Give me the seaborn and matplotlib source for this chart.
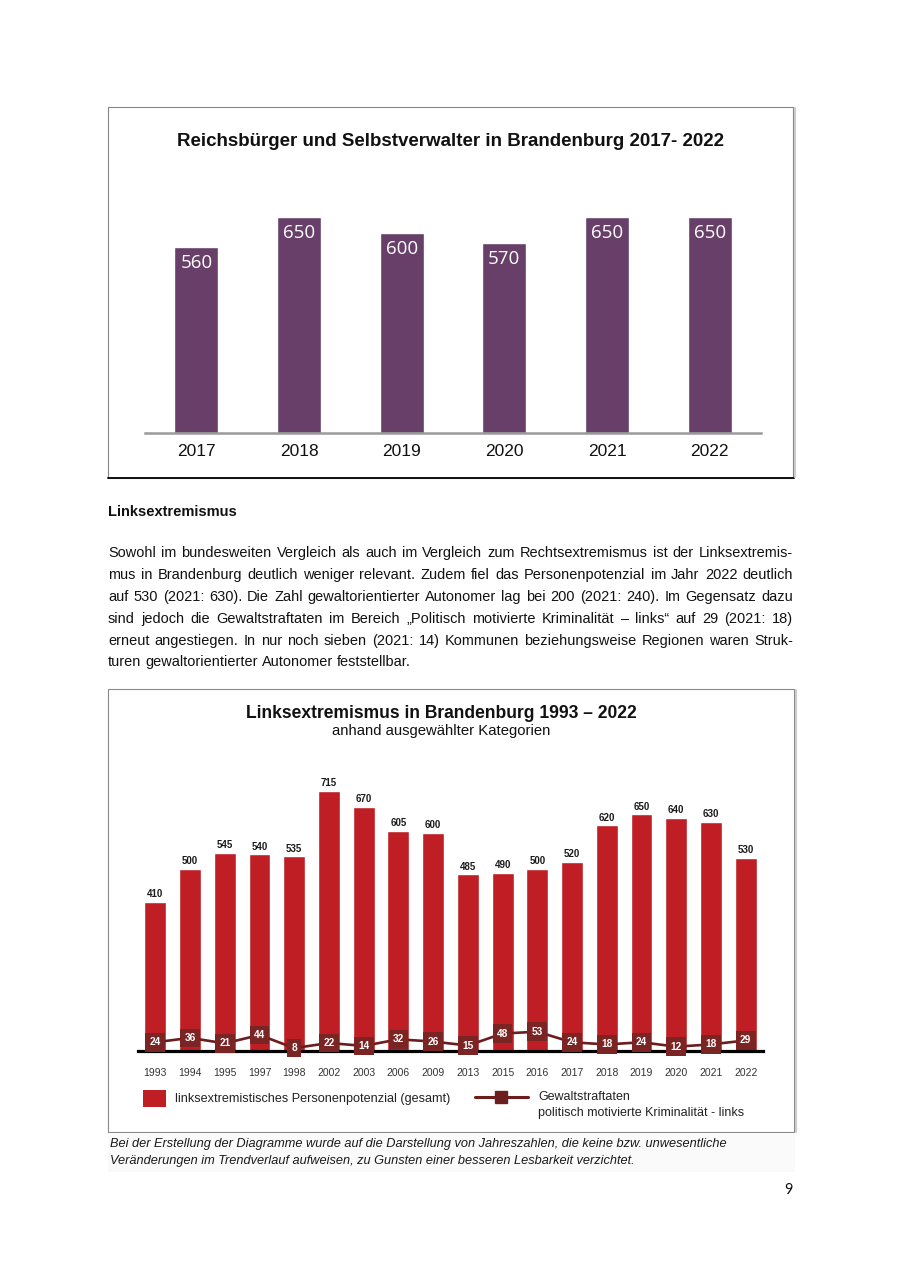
import numpy as np
import pandas as pd
import matplotlib
matplotlib.use('Agg')
import matplotlib.pyplot as plt
import seaborn as sns
from matplotlib import font_manager
from matplotlib.patches import Rectangle
from matplotlib.lines import Line2D

# ---------------- data ----------------
years1 = ['2017', '2018', '2019', '2020', '2021', '2022']
reichsbuerger = [560, 650, 600, 570, 650, 650]

years2 = ['1993', '1994', '1995', '1997', '1998', '2002', '2003', '2006', '2009',
          '2013', '2015', '2016', '2017', '2018', '2019', '2020', '2021', '2022']
personen = [410, 500, 545, 540, 535, 715, 670, 605, 600, 485, 490, 500, 520, 620, 650, 640, 630, 530]
gewalt = [24, 36, 21, 44, 8, 22, 14, 32, 26, 15, 48, 53, 24, 18, 24, 12, 18, 29]

title1 = 'Reichsbürger und Selbstverwalter in Brandenburg 2017- 2022'
heading = 'Linksextremismus'
body_lines = [
    'Sowohl im bundesweiten Vergleich als auch im Vergleich zum Rechtsextremismus ist der Linksextremis-',
    'mus in Brandenburg deutlich weniger relevant. Zudem fiel das Personenpotenzial im Jahr 2022 deutlich',
    'auf 530 (2021: 630). Die Zahl gewaltorientierter Autonomer lag bei 200 (2021: 240). Im Gegensatz dazu',
    'sind jedoch die Gewaltstraftaten im Bereich „Politisch motivierte Kriminalität – links“ auf 29 (2021: 18)',
    'erneut angestiegen. In nur noch sieben (2021: 14) Kommunen beziehungsweise Regionen waren Struk-',
    'turen gewaltorientierter Autonomer feststellbar.',
]
title2 = 'Linksextremismus in Brandenburg 1993 – 2022'
subtitle2 = 'anhand ausgewählter Kategorien'
legend_bar = 'linksextremistisches Personenpotenzial (gesamt)'
legend_line = ['Gewaltstraftaten', 'politisch motivierte Kriminalität - links']
caption = ['Bei der Erstellung der Diagramme wurde auf die Darstellung von Jahreszahlen, die keine bzw. unwesentliche',
           'Veränderungen im Trendverlauf aufweisen, zu Gunsten einer besseren Lesbarkeit verzichtet.']

# ---------------- style ----------------
W, H = 900, 1273
sns.set_theme(style='white')
names = {f.name for f in font_manager.fontManager.ttflist}
NARROW = 'Liberation Sans Narrow' if 'Liberation Sans Narrow' in names else 'Liberation Sans'
plt.rcParams['font.family'] = ['Liberation Sans', 'DejaVu Sans']

PURPLE = '#673F69'
RED = '#BE1E24'
MAROON = '#6C1D1D'
BOXC = '#7A2424'

fig = plt.figure(figsize=(W / 100, H / 100), dpi=100)
fig.patch.set_facecolor('white')
renderer = fig.canvas.get_renderer()


def fx(x):
    return x / W


def fy(y):
    return 1 - y / H


def ax_at(l, t, r, b):
    return fig.add_axes([fx(l), fy(b), (r - l) / W, (b - t) / H])


def fit_text(x, y, s, width, ha='center', size=12, **kw):
    t = fig.text(fx(x), fy(y), s, ha=ha, va='center', fontsize=size, **kw)
    w = t.get_window_extent(renderer).width
    t.set_fontsize(size * width / w)
    return t


def text_width(s, size, **kw):
    t = fig.text(0, 0, s, fontsize=size, **kw)
    w = t.get_window_extent(renderer).width
    t.remove()
    return w


def justify(line, y, x0, x1, size, last=False, **kw):
    words = line.split(' ')
    widths = [text_width(w, size, **kw) for w in words]
    space = text_width('a a', size, **kw) - text_width('aa', size, **kw)
    if last or len(words) == 1:
        gap = space
    else:
        gap = (x1 - x0 - sum(widths)) / (len(words) - 1)
    x = x0
    for w, wd in zip(words, widths):
        fig.text(fx(x), fy(y), w, ha='left', va='center', fontsize=size, **kw)
        x += wd + gap


# ---------------- chart 1 ----------------
fig.patches.append(Rectangle((fx(108), fy(478)), (793 - 108) / W, (478 - 107) / H,
                             transform=fig.transFigure, fill=False, ec='#858585', lw=0.8))
fig.lines.append(Line2D([fx(108), fx(794)], [fy(478), fy(478)], transform=fig.transFigure,
                        color='#111111', lw=1.4))
fig.lines.append(Line2D([fx(794.5), fx(794.5)], [fy(108), fy(477)], transform=fig.transFigure,
                        color='#cccccc', lw=1.5))

fit_text(451, 142, title1, 552, size=15, weight='bold', family=NARROW, color='#111111')

ax1 = ax_at(145, 200, 761, 433)
df1 = pd.DataFrame({'Jahr': years1, 'Wert': reichsbuerger})
sns.barplot(data=df1, x='Jahr', y='Wert', color=PURPLE, saturation=1, width=0.43, ax=ax1)
ax1.set_xlim(-0.5, len(years1) - 0.5)
ax1.set_ylim(0, 700)
ax1.set_facecolor('none')
for s in ['top', 'left', 'right']:
    ax1.spines[s].set_visible(False)
ax1.spines['bottom'].set_color('#9a9a9a')
ax1.spines['bottom'].set_linewidth(1.8)
ax1.set_yticks([])
ax1.set_xlabel('')
ax1.set_ylabel('')
ax1.tick_params(axis='x', length=0, pad=8, labelsize=12.5, labelcolor='#111111')
for i, v in enumerate(reichsbuerger):
    ax1.annotate(str(v), (i, v), xytext=(0, -11.5), textcoords='offset points',
                 ha='center', va='center', color='white', fontsize=13.5,
                 family=['Open Sans', 'DejaVu Sans'])

# ---------------- text section ----------------
fit_text(108, 512, heading, 129, ha='left', size=11, weight='bold', family=NARROW, color='#111111')

full = body_lines[:-1]
maxw = max(text_width(l, 10, family=NARROW) for l in full)
bsize = 10 * 674 / maxw
ys = [553, 575, 597, 619, 641, 662]
for k, (line, y) in enumerate(zip(body_lines, ys)):
    justify(line, y, 108, 793, bsize, last=(k == len(body_lines) - 1),
            family=NARROW, color='#111111')

# ---------------- chart 2 ----------------
fig.patches.append(Rectangle((fx(108), fy(1132)), (794 - 108) / W, (1132 - 689) / H,
                             transform=fig.transFigure, fill=False, ec='#8a8a8a', lw=0.8))
fig.lines.append(Line2D([fx(795.5), fx(795.5)], [fy(690), fy(1132)], transform=fig.transFigure,
                        color='#cccccc', lw=1.5))

fit_text(441, 713, title2, 391, size=13, weight='bold', color='#111111')
fit_text(441, 731, subtitle2, 220, size=10, color='#111111')

ax2 = ax_at(138, 778, 763, 1051)
df2 = pd.DataFrame({'Jahr': years2, 'Personen': personen})
sns.barplot(data=df2, x='Jahr', y='Personen', color=RED, saturation=1, width=0.63, ax=ax2, zorder=1)
ax2.set_xlim(-0.5, len(years2) - 0.5)
ax2.set_ylim(0, 750)
ax2.set_facecolor('none')
for s in ['top', 'left', 'right']:
    ax2.spines[s].set_visible(False)
ax2.spines['bottom'].set_color('#000000')
ax2.spines['bottom'].set_linewidth(2.3)
ax2.spines['bottom'].set_zorder(2.5)
ax2.set_yticks([])
ax2.set_xlabel('')
ax2.set_ylabel('')
ax2.tick_params(axis='x', length=0, pad=12, labelsize=7.5, labelcolor='#333333')

for i, v in enumerate(personen):
    ax2.annotate(str(v), (i, v), xytext=(0, 5.5), textcoords='offset points',
                 ha='center', va='center', fontsize=7, weight='bold', color='#1a1a1a')

sns.lineplot(x=np.arange(len(gewalt)), y=gewalt, ax=ax2, color=MAROON, lw=1.9, sort=False, zorder=3)
ax2.set_xlabel('')
ax2.set_ylabel('')
ax2.set_ylim(0, 750)
ax2.set_xlim(-0.5, len(years2) - 0.5)
for i, v in enumerate(gewalt):
    ax2.annotate(str(v), (i, v), ha='center', va='center', fontsize=7.3, weight='bold',
                 color='white', zorder=5,
                 bbox=dict(boxstyle='square,pad=0.42', fc=BOXC, ec='none'))

# legend
fig.patches.append(Rectangle((fx(143), fy(1107)), 23 / W, 17 / H, transform=fig.transFigure,
                             fc=RED, ec='none'))
fit_text(175, 1099, legend_bar, 272, ha='left', size=8.5, color='#222222')
fig.lines.append(Line2D([fx(475), fx(528)], [fy(1097), fy(1097)], transform=fig.transFigure,
                        color=MAROON, lw=2.2))
fig.lines.append(Line2D([fx(501)], [fy(1097)], transform=fig.transFigure, marker='s',
                        ms=9, color=MAROON, lw=0))
t = fit_text(538, 1113, legend_line[1], 204, ha='left', size=8.5, color='#222222')
fig.text(fx(538), fy(1097), legend_line[0], ha='left', va='center',
         fontsize=t.get_fontsize(), color='#222222')

# caption
fig.patches.append(Rectangle((fx(108), fy(1172)), (795 - 108) / W, (1172 - 1134) / H,
                             transform=fig.transFigure, fc='#fafafa', ec='none', zorder=-1))
c = fit_text(110, 1144, caption[0], 609, ha='left', size=8.5, style='italic', color='#1a1a1a')
fig.text(fx(110), fy(1161), caption[1], ha='left', va='center', fontsize=c.get_fontsize(),
         style='italic', color='#1a1a1a')

# page number
fig.text(fx(788), fy(1190), '9', ha='center', va='center', fontsize=10.5,
         family=['Lato', 'DejaVu Sans'], color='#111111')

fig.savefig('out.png', dpi=100, facecolor='white')
